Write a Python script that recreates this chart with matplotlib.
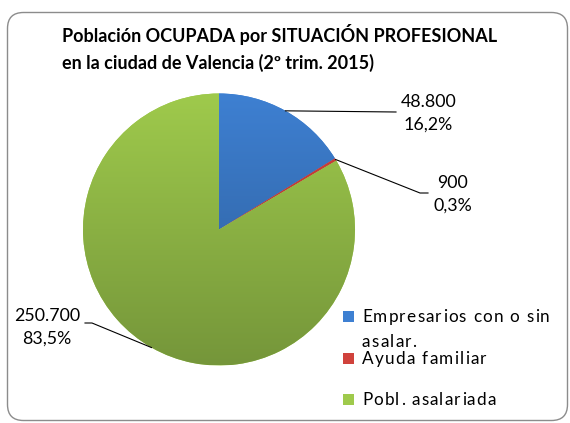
import numpy as np
import matplotlib
matplotlib.use("Agg")
import matplotlib.pyplot as plt
from matplotlib.patches import FancyBboxPatch, Rectangle
from matplotlib.colors import to_rgb
from matplotlib.font_manager import FontProperties

# ---- data ----
categories = ["Empresarios con o sin\nasalar.", "Ayuda familiar", "Pobl. asalariada"]
values = [48800, 900, 250700]
title = "Población OCUPADA por SITUACIÓN PROFESIONAL\nen la ciudad de Valencia (2º trim. 2015)"

# colours (top / bottom of the vertical gradient)
col_top = ["#3E80D2", "#D0423C", "#9FCA4C"]
col_bot = ["#2C5B95", "#A8302C", "#75963A"]

W, H = 570, 423
fig = plt.figure(figsize=(W / 100, H / 100), dpi=100)
ax = fig.add_axes([0, 0, 1, 1])
FONT = "Lato"

def Y(py):
    return H - py

cx, cy, r = 219.0, Y(229.5), 136.0
wedges, _ = ax.pie(values, startangle=90, counterclock=False, center=(cx, cy),
                   radius=r, colors=col_top, frame=True,
                   wedgeprops=dict(linewidth=0))

# gradient fill clipped to each wedge
n = 256
for w, ct, cb in zip(wedges, col_top, col_bot):
    t = np.linspace(0, 1, n)[:, None]
    a, b = np.array(to_rgb(ct)), np.array(to_rgb(cb))
    img = (a[None, :] * (1 - t) + b[None, :] * t)[:, None, :]
    img = np.repeat(img, 2, axis=1)
    im = ax.imshow(img, extent=(cx - r, cx + r, cy - r, cy + r), origin="upper",
                   aspect="auto", zorder=2, interpolation="bilinear")
    im.set_clip_path(w)

ax.set_xlim(0, W)
ax.set_ylim(0, H)
ax.set_aspect("auto")
ax.axis("off")

# rounded border
ax.add_patch(FancyBboxPatch((7.5, Y(420.5)), 560, 408,
                            boxstyle="round,pad=0,rounding_size=16",
                            fc="none", ec="#8C8C8C", lw=1.0, zorder=1))

# title
fig.text(62 / W, 1 - 24 / H, title, fontsize=13.0, fontweight="bold", family=FONT,
         ha="left", va="top", linespacing=1.6, color="#000000")

# data labels + leader lines
total = sum(values)
angles = []
start = 90.0
for v in values:
    span = 360.0 * v / total
    angles.append(start - span / 2)
    start -= span

def fmt(v):
    return f"{v:,}".replace(",", ".") + "\n" + f"{100 * v / total:.1f}".replace(".", ",") + "%"

label_pos = [(428.5, 113.5), (453, 194), (47, 327.5)]
elbows = [[(396, 112)], [(420, 193), (428, 193)], [(92, 323), (85, 323)]]
for i, v in enumerate(values):
    th = np.deg2rad(angles[i])
    ex, ey = cx + r * np.cos(th), cy + r * np.sin(th)
    xs = [ex] + [p[0] for p in elbows[i]]
    ys = [ey] + [Y(p[1]) for p in elbows[i]]
    ax.plot(xs, ys, color="black", lw=0.8, zorder=3)
    lx, ly = label_pos[i]
    ax.text(lx, Y(ly), fmt(v), ha="center", va="center", fontsize=12.8,
            family=FONT, linespacing=1.5, color="#000000", zorder=4)

# legend (letter-spaced text, as in the original)
renderer = fig.canvas.get_renderer()
LEG_FS = 12.3
prop = FontProperties(family=FONT, size=LEG_FS)
TRACK = 1.2  # extra pixels between letters

def tw(s):
    w, _, _ = renderer.get_text_width_height_descent(s, prop, ismath=False)
    return w

def draw_tracked(x0, py, s):
    ref = tw("|")
    for k, ch in enumerate(s):
        if ch == " ":
            continue
        xoff = (tw(s[:k] + "|") - ref) if k > 0 else 0.0
        ax.text(x0 + xoff + k * TRACK, Y(py), ch, ha="left", va="baseline",
                fontproperties=prop, color="#000000", zorder=4)

leg_rows = [316, 358, 399]
line_gap = 25
for i, lab in enumerate(categories):
    py = leg_rows[i]
    ax.add_patch(Rectangle((343, Y(py + 5.5)), 11, 11, fc=col_top[i], ec="none", zorder=4))
    for j, line in enumerate(lab.split("\n")):
        draw_tracked(362, py + 6 + j * line_gap, line)

fig.savefig("out.png", dpi=100)
